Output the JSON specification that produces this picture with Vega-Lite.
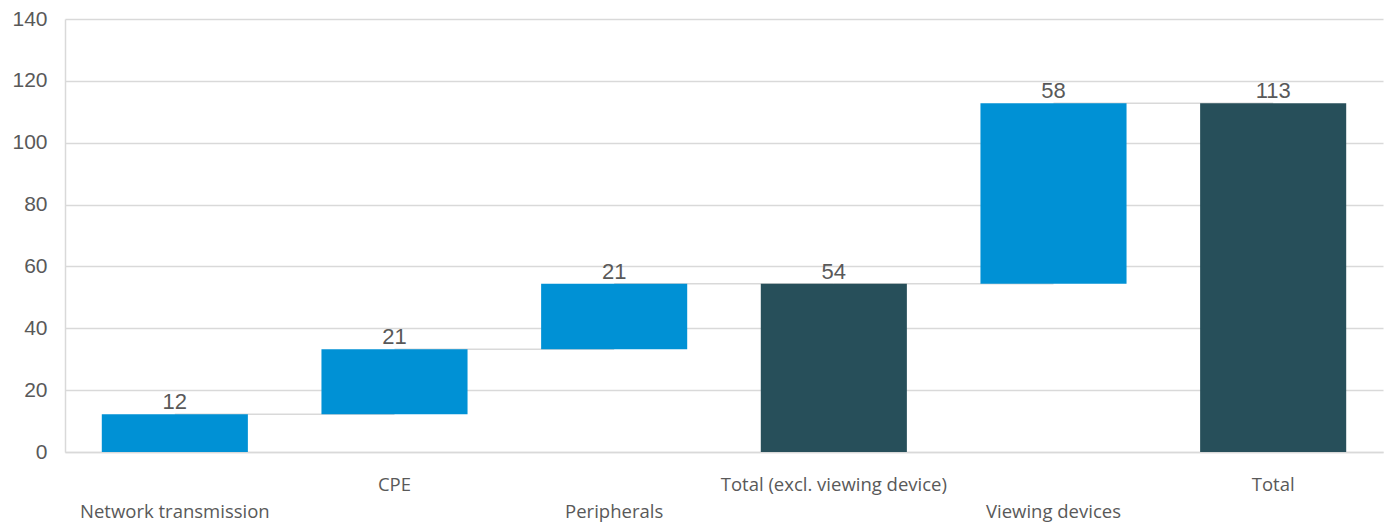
{
  "$schema": "https://vega.github.io/schema/vega-lite/v6.json",
  "width": 1318,
  "height": 433,
  "autosize": {"type": "none"},
  "padding": {"left": 65, "top": 19, "right": 8, "bottom": 73},
  "background": "white",
  "config": {
    "view": {"stroke": null},
    "axis": {"labelColor": "#595959", "ticks": false, "domainColor": "#d9d9d9", "domainWidth": 1.5, "gridColor": "#d9d9d9", "gridWidth": 1.5}
  },
  "data": {
    "values": [
      {"category": "Network transmission", "start": 0, "amount": 12.2, "kind": "step"},
      {"category": "CPE", "start": 12.2, "amount": 21.0, "kind": "step"},
      {"category": "Peripherals", "start": 33.2, "amount": 21.2, "kind": "step"},
      {"category": "Total (excl. viewing device)", "start": 0, "amount": 54.4, "kind": "total"},
      {"category": "Viewing devices", "start": 54.4, "amount": 58.4, "kind": "step"},
      {"category": "Total", "start": 0, "amount": 112.8, "kind": "total"}
    ]
  },
  "transform": [
    {"calculate": "datum.start + datum.amount", "as": "end"},
    {"window": [{"op": "lead", "field": "category", "as": "next"}]}
  ],
  "encoding": {
    "x": {
      "field": "category",
      "type": "nominal",
      "sort": null,
      "title": null,
      "scale": {"paddingInner": 0.335, "paddingOuter": 0.1675},
      "axis": {
        "labelAngle": 0,
        "labelFont": "Open Sans",
        "labelFontSize": 18.5,
        "labelPadding": 23,
        "labelLineHeight": 27,
        "labelBaseline": "top",
        "labelLimit": 0,
        "domain": true,
        "grid": false,
        "labelExpr": "indexof(['Network transmission', 'Peripherals', 'Viewing devices'], datum.value) >= 0 ? ['', datum.label] : datum.label"
      }
    }
  },
  "layer": [
    {
      "transform": [{"filter": "datum.next != null"}],
      "mark": {"type": "rule", "color": "#d9d9d9", "strokeWidth": 1.5},
      "encoding": {
        "x2": {"field": "next"},
        "y": {"field": "end", "type": "quantitative"}
      }
    },
    {
      "mark": {"type": "bar"},
      "encoding": {
        "y": {
          "field": "start",
          "type": "quantitative",
          "title": null,
          "scale": {"domain": [0, 140], "nice": false},
          "axis": {
            "values": [0, 20, 40, 60, 80, 100, 120, 140],
            "labelFont": "Liberation Sans",
            "labelFontSize": 21,
            "labelPadding": 18,
            "domain": true,
            "grid": true
          }
        },
        "y2": {"field": "end"},
        "color": {
          "field": "kind",
          "type": "nominal",
          "scale": {"domain": ["step", "total"], "range": ["#0091d5", "#274f5a"]},
          "legend": null
        }
      }
    },
    {
      "mark": {"type": "text", "baseline": "bottom", "dy": 0, "font": "Liberation Sans", "fontSize": 22, "color": "#595959"},
      "encoding": {
        "y": {"field": "end", "type": "quantitative"},
        "text": {"field": "amount", "type": "quantitative", "format": ".0f"}
      }
    }
  ]
}
